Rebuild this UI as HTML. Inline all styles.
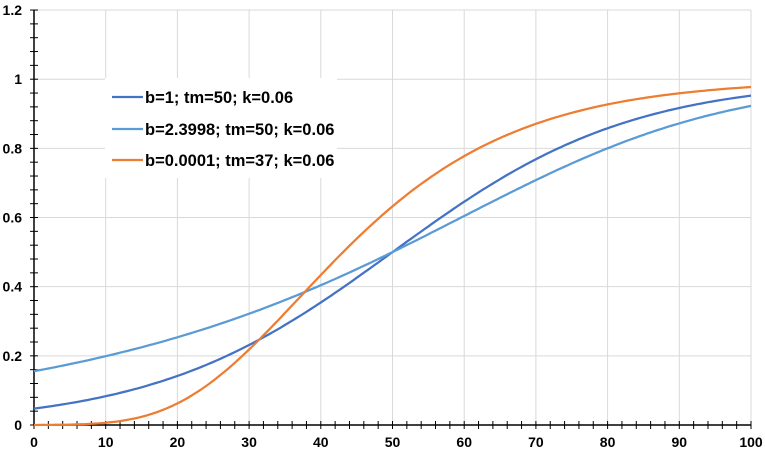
<!DOCTYPE html>
<html><head><style>
body{margin:0;background:#fff;}
svg text{font-family:"Liberation Sans",sans-serif;font-weight:bold;font-size:14px;fill:#000;}
</style></head><body>
<svg id="s" width="765" height="453" xmlns="http://www.w3.org/2000/svg"></svg>
<script>
var s=document.getElementById('s'),h='';
function X(t){return 34+t*7.17;} function Y(v){return 425-v*345.8;}
for(var i=1;i<=10;i++)h+='<line x1="'+X(i*10)+'" y1="10" x2="'+X(i*10)+'" y2="425" stroke="#d9d9d9"/>';
for(var j=1;j<=6;j++)h+='<line x1="34" y1="'+Y(j*0.2)+'" x2="751" y2="'+Y(j*0.2)+'" stroke="#d9d9d9"/>';
for(var i=0;i<=50;i++){var x=X(i*2);h+='<line x1="'+x+'" y1="421" x2="'+x+'" y2="429" stroke="#000"/>';}
for(var j=0;j<=30;j++){var y=Y(j*0.04);h+='<line x1="30" y1="'+y+'" x2="38" y2="'+y+'" stroke="#000"/>';}
h+='<line x1="34" y1="10" x2="34" y2="425" stroke="#000" stroke-width="1.5"/><line x1="34" y1="425" x2="751" y2="425" stroke="#000" stroke-width="1.5"/>';
for(var i=0;i<=10;i++)h+='<text x="'+X(i*10)+'" y="447" text-anchor="middle">'+(i*10)+'</text>';
var yl=['0','0.2','0.4','0.6','0.8','1','1.2'];
for(var j=0;j<=6;j++)h+='<text x="22" y="'+(Y(j*0.2)+5)+'" text-anchor="end">'+yl[j]+'</text>';
function path(f,c){var d='';for(var t=0;t<=100;t+=0.5){d+=(t?'L':'M')+X(t).toFixed(1)+','+Y(f(t)).toFixed(1);}return '<path d="'+d+'" fill="none" stroke="'+c+'" stroke-width="2.25"/>';}
var k=0.06;
h+=path(function(t){return 1/(1+Math.exp(-k*(t-50)));},'#4472c4');
var b=2.3998,c=50+Math.log((Math.pow(2,b)-1)/b)/k;
h+=path(function(t){return Math.pow(1+b*Math.exp(-k*(t-c)),-1/b);},'#5b9bd5');
h+=path(function(t){return Math.exp(-Math.exp(-k*(t-37)));},'#ed7d31');
h+='<rect x="105" y="78" width="232" height="100" fill="#fff"/>';
var L=[['b=1; tm=50; k=0.06','#4472c4',97],['b=2.3998; tm=50; k=0.06','#5b9bd5',129],['b=0.0001; tm=37; k=0.06','#ed7d31',160]];
L.forEach(function(l){h+='<line x1="112" y1="'+l[2]+'" x2="143" y2="'+l[2]+'" stroke="'+l[1]+'" stroke-width="2.25"/><text x="145" y="'+(l[2]+6)+'" style="font-size:16.5px">'+l[0]+'</text>';});
s.innerHTML=h;
</script>
</body></html>
